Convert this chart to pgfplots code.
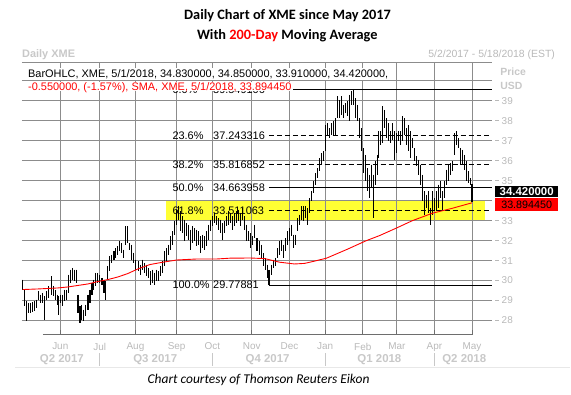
\documentclass[border=0pt]{standalone}
\usepackage{fontspec}
\setmainfont{Liberation Sans}
\newfontfamily\carlito{Carlito}
\usepackage{pgfplots}
\pgfplotsset{compat=1.18}
\usepackage{pgfplotstable}
\definecolor{gridgray}{RGB}{140,140,140}
\definecolor{lblgray}{RGB}{185,185,185}
\definecolor{qgray}{RGB}{200,200,200}
\definecolor{fibyellow}{RGB}{255,255,51}
\definecolor{smared}{RGB}{255,0,0}
\definecolor{axgray}{RGB}{110,110,110}

% x = trading-day index from 2 May 2017
\pgfplotstableread{
x hi lo
0.0 30.05 29.55
0.9 29.55 28.72
2.1 28.97 27.97
3.4 28.88 28.38
4.5 28.88 28.38
5.6 28.92 28.42
6.7 28.97 28.47
7.8 29.05 28.63
8.9 29.47 29.05
10.1 29.30 28.88
11.2 29.38 28.88
12.3 29.22 28.05
13.4 29.47 29.05
14.5 29.72 29.13
16.0 30.22 29.30
17.1 29.72 29.22
18.2 29.55 29.05
19.3 29.30 28.80
20.1 29.22 28.30
21.2 29.30 28.88
22.3 29.30 28.72
23.4 29.55 28.97
24.6 29.55 29.05
25.7 30.30 29.38
26.8 30.55 29.88
27.9 30.63 30.05
29.0 30.55 29.97
30.1 30.55 29.88
30.9 29.30 28.38
32.0 28.72 27.88
33.1 28.80 28.05
34.2 28.55 27.97
35.3 28.80 28.22
36.5 29.30 28.55
37.6 29.55 28.88
38.7 29.88 29.30
39.8 30.05 29.55
40.9 30.38 29.72
42.0 30.38 29.88
43.1 30.30 29.88
44.3 30.13 29.80
45.4 30.05 29.38
46.5 29.97 29.05
47.6 30.72 30.05
48.7 31.22 30.47
49.8 31.30 30.88
51.0 31.47 31.05
52.1 31.63 31.13
53.2 31.72 31.30
54.3 31.97 31.47
55.4 31.88 31.38
56.5 31.55 31.13
57.6 32.72 31.80
58.8 32.72 31.88
59.9 31.88 31.55
61.0 31.80 31.05
62.1 31.40 30.90
63.2 31.05 30.55
64.5 30.97 30.47
65.8 30.80 30.30
66.9 31.05 30.55
68.1 30.88 30.38
69.2 30.80 30.22
70.3 30.63 30.13
71.4 30.47 29.80
72.5 30.55 29.88
73.6 30.38 29.80
74.8 30.55 29.97
75.9 30.47 29.97
77.0 30.72 30.22
78.1 30.97 30.38
79.2 31.47 30.72
80.3 31.63 30.97
81.4 31.80 31.30
82.6 32.22 31.55
83.7 32.47 31.80
84.8 32.97 32.30
85.9 33.55 32.80
87.0 33.75 33.05
88.1 33.47 32.47
89.3 33.22 32.38
90.4 33.05 31.97
91.5 32.88 32.22
92.6 32.80 32.05
93.7 32.55 31.55
94.8 32.72 31.88
95.9 32.63 31.97
97.1 32.55 31.72
98.2 32.47 31.80
99.3 32.22 31.38
100.4 32.30 31.63
101.5 32.22 31.55
102.6 32.47 31.72
103.8 32.80 32.05
104.9 33.05 32.47
106.0 33.22 32.72
107.1 33.38 32.88
108.2 33.22 32.80
109.3 33.13 32.55
110.4 33.05 32.38
111.6 32.88 32.05
112.7 32.97 32.38
113.8 33.22 32.72
114.9 33.47 32.80
116.0 33.38 32.88
117.1 33.22 32.55
118.3 33.38 32.72
119.4 33.47 32.88
120.5 33.55 32.97
121.6 33.38 32.72
122.7 33.63 33.05
123.8 33.22 32.55
124.9 32.80 31.97
125.9 32.47 31.97
127.2 32.38 31.63
128.3 32.22 31.80
129.6 32.80 32.13
130.9 32.13 31.47
132.2 31.97 31.30
133.3 31.80 31.13
134.4 31.38 30.72
135.5 31.13 30.55
136.7 30.80 30.13
137.6 30.55 29.78
138.9 30.80 30.30
140.0 31.05 30.63
141.1 31.13 30.72
142.2 31.63 31.13
143.3 31.97 31.30
144.5 32.05 31.47
145.6 31.80 31.13
146.7 32.13 31.47
147.8 32.47 31.80
148.9 32.63 31.97
150.0 32.80 32.22
151.2 32.30 31.63
152.3 32.30 31.80
153.4 33.13 32.47
154.5 33.30 32.80
155.6 33.72 33.05
156.7 33.72 32.97
157.9 33.72 33.13
159.0 33.63 32.80
160.1 34.13 33.38
161.2 34.47 33.97
162.3 34.97 34.38
163.4 35.38 34.80
164.5 35.63 35.13
165.7 36.13 35.47
166.8 36.38 35.80
167.9 36.47 35.97
169.0 37.80 36.47
170.1 37.88 37.30
171.2 37.63 37.13
172.4 37.88 37.30
173.5 37.97 37.30
174.6 38.13 37.30
175.7 39.22 38.13
176.8 39.05 38.13
177.9 39.22 38.30
179.0 38.80 38.13
180.2 38.88 38.38
181.3 38.97 38.22
182.4 39.30 37.97
183.5 39.50 38.80
184.6 39.55 38.80
185.7 39.13 38.13
186.9 38.80 37.97
188.0 38.13 37.13
189.1 37.63 36.47
190.2 36.63 35.38
191.5 36.30 34.97
192.6 35.63 34.47
193.7 35.30 34.13
194.8 35.80 34.63
195.8 35.30 33.13
196.9 35.97 34.80
198.0 36.30 35.30
198.9 37.47 36.13
200.1 37.47 36.80
201.2 38.72 36.88
202.3 38.55 37.63
203.4 38.13 37.13
204.5 37.88 36.97
205.6 37.47 36.88
206.7 37.88 37.05
207.9 37.47 36.05
209.0 37.38 36.38
210.1 37.47 36.97
211.2 37.47 36.80
212.3 38.22 36.97
213.4 38.13 37.30
214.6 37.63 36.80
215.7 37.80 36.47
216.8 37.47 36.13
217.9 37.13 36.63
219.0 36.63 35.97
220.1 36.22 35.72
221.2 36.05 35.30
222.4 35.80 34.80
223.5 35.30 33.97
224.6 34.47 33.30
225.7 34.30 33.63
226.8 34.47 33.38
227.9 33.63 32.80
229.1 34.47 33.30
230.2 34.13 33.47
231.3 34.47 33.47
232.4 34.80 33.63
233.5 34.97 34.13
234.6 34.47 33.47
235.7 34.97 34.13
236.9 35.55 34.80
238.0 35.80 34.97
239.1 35.88 35.30
240.2 35.97 35.47
241.3 37.38 36.30
242.4 37.47 36.80
243.6 37.13 36.63
244.7 36.63 35.80
245.8 36.55 35.80
246.9 36.30 35.55
248.0 35.97 34.97
249.1 35.47 34.88
250.2 35.13 34.80
251.0 34.85 33.91
}\bars

\pgfplotstableread{
x sma
0 29.55
8.6 29.58
19.7 29.63
25.3 29.68
36.4 29.83
42.0 29.95
47.6 30.05
53.2 30.18
58.7 30.35
64.3 30.58
71.0 30.80
78.3 30.92
86.1 31.03
97.2 31.08
108.4 31.08
115.6 31.12
126.8 31.13
135.2 31.10
143.5 30.92
151.9 30.83
157.5 30.86
161.9 30.95
169.7 31.12
180.9 31.55
192.0 32.00
199.3 32.25
208.8 32.63
217.7 33.00
228.8 33.37
240.0 33.62
251.0 33.894
}\sma

\begin{document}
\begin{tikzpicture}
% background: golden-zone highlight and grid, in picture units (1 unit = 1bp)
\begin{scope}[x=1bp,y=1bp]
\fill[fibyellow] (165.8,174) rectangle (485.7,194);
\foreach \xx in {60.4,99.8,135.7,176.9,212.8,252.2,289.9,325.7,363.4,397.4,435.1,472.7} {
  \draw[gridgray, line width=0.9bp] (\xx,60) -- (\xx,332);
}
\foreach \yy in {74,94,114,134,154,174,194,214,234,254,274,294,314,332} {
  \draw[gridgray, line width=0.9bp] (22,\yy) -- (493,\yy);
}
\end{scope}

\begin{axis}[
  at={(22bp,60bp)}, anchor=south west,
  scale only axis, width=471bp, height=272bp,
  xmin=-0.4, xmax=262.3, ymin=27.3, ymax=40.9,
  clip=false,
  axis line style={draw=none},
  major tick length=0pt,
  xtick={21,43,63,86,106,128,149,169,190,209,230,251},
  xticklabels={Jun,Jul,Aug,Sep,Oct,Nov,Dec,Jan,Feb,Mar,Apr,May},
  xticklabel style={font=\fontsize{10}{12}\selectfont, text=lblgray, yshift=-5bp},
  ytick={28,29,30,31,32,33,34,35,36,37,38,39,40},
  yticklabels={28,29,30,31,32,33,34,35,36,37,38,39,{}},
  ytick pos=right, yticklabel pos=right,
  yticklabel style={font=\fontsize{10}{12}\selectfont, text=lblgray, xshift=6bp},
  /pgf/number format/assume math mode=true,
]
% Fibonacci retracement levels
\addplot[black, line width=0.9bp, mark=none, forget plot] coordinates {(137.5,39.549106) (262.3,39.549106)};
\addplot[black, line width=0.9bp, mark=none, dash pattern=on 5bp off 3bp, forget plot] coordinates {(137.5,37.243316) (262.3,37.243316)};
\addplot[black, line width=0.9bp, mark=none, dash pattern=on 5bp off 3bp, forget plot] coordinates {(137.5,35.816852) (262.3,35.816852)};
\addplot[black, line width=0.9bp, mark=none, forget plot] coordinates {(137.5,34.663958) (262.3,34.663958)};
\addplot[black, line width=0.9bp, mark=none, dash pattern=on 5bp off 3bp, forget plot] coordinates {(137.5,33.511063) (262.3,33.511063)};
\addplot[black, line width=0.9bp, mark=none, forget plot] coordinates {(137.5,29.77881) (262.3,29.77881)};

% OHLC bars (high-low ranges)
\addplot[draw=none, mark=none, forget plot,
  error bars/.cd, y dir=minus, y explicit, error mark=none,
  error bar style={draw=black, solid, line width=1.1bp}]
  table[x=x, y=hi, y error minus expr=\thisrow{hi}-\thisrow{lo}] {\bars};

% 200-day SMA
\addplot[smared, line width=0.9bp, mark=none, forget plot] table[x=x, y=sma] {\sma};

% Fib labels
\begin{scope}[every node/.style={font=\fontsize{11}{13}\selectfont, anchor=west, inner sep=0pt}]
\node at (axis cs:83.6,39.549106) {0.0\%};
\node at (axis cs:106.3,39.549106) {39.549106};
\node at (axis cs:83.6,37.243316) {23.6\%};
\node at (axis cs:106.3,37.243316) {37.243316};
\node at (axis cs:83.6,35.816852) {38.2\%};
\node at (axis cs:106.3,35.816852) {35.816852};
\node at (axis cs:83.6,34.663958) {50.0\%};
\node at (axis cs:106.3,34.663958) {34.663958};
\node at (axis cs:83.6,33.511063) {61.8\%};
\node at (axis cs:106.3,33.511063) {33.511063};
\node at (axis cs:83.6,29.77881) {100.0\%};
\node at (axis cs:106.3,29.77881) {29.77881};
\end{scope}
\end{axis}

\begin{scope}[x=1bp,y=1bp]
% price-axis tick dashes
\foreach \yy in {74,94,114,134,154,174,194,214,234,254,274,294} {
  \draw[lblgray, line width=0.8bp] (496,\yy) -- (500,\yy);
}
% bottom axis line and month ticks
\draw[axgray, line width=1bp] (43,60) -- (474,60);
\foreach \xx in {60.4,99.8,135.7,176.9,212.8,252.2,289.9,325.7,363.4,397.4,435.1,472.7} {\draw[axgray, line width=0.8bp] (\xx,60) -- (\xx,64);}
% quarter labels
\begin{scope}[every node/.style={font=\bfseries\fontsize{11.5}{13}\selectfont, text=qgray}]
\node at (62,34.7) {Q2 2017};
\node at (155.5,34.7) {Q3 2017};
\node at (268,34.7) {Q4 2017};
\node at (380,34.7) {Q1 2018};
\node at (465,34.7) {Q2 2018};
\end{scope}
\foreach \xx in {99.8,212.8,325.7,435.1} {\draw[qgray, line width=0.7bp] (\xx,28.5) -- (\xx,41);}
\draw[black!9, line width=1.8bp] (15,27) -- (571,27);

% header
\node[font=\carlito\bfseries\fontsize{14.4}{16}\selectfont] at (288,379) {Daily Chart of XME since May 2017};
\node[font=\carlito\bfseries\fontsize{14.4}{16}\selectfont] at (287.7,359) {With \textcolor{red}{200-Day} Moving Average};
\node[anchor=west, font=\bfseries\fontsize{11}{13}\selectfont, text=qgray, inner sep=0pt] at (22,340) {Daily XME};
\node[anchor=east, font=\fontsize{10.5}{12}\selectfont, text=lblgray, inner sep=0pt] at (556,340) {5/2/2017 - 5/18/2018 (EST)};

% data box
\node[anchor=base west, fill=white, inner xsep=1bp, inner ysep=0.4bp, text height=8.5bp, text depth=2.6bp, font=\fontsize{11}{13}\selectfont] at (27,317.7) {BarOHLC, XME, 5/1/2018, 34.830000, 34.850000, 33.910000, 34.420000,};
\node[anchor=base west, fill=white, inner xsep=1bp, inner ysep=0.3bp, text height=8.5bp, text depth=0bp, text=red, font=\fontsize{11}{13}\selectfont] at (27,304.3) {-0.550000, (-1.57\%), SMA, XME, 5/1/2018, 33.894450};

% price axis title
\node[anchor=west, font=\bfseries\fontsize{10.5}{12}\selectfont, text=qgray, inner sep=0pt] at (501,323.3) {Price};
\node[anchor=west, font=\bfseries\fontsize{10.5}{12}\selectfont, text=qgray, inner sep=0pt] at (501,309.3) {USD};

% last value flags
\fill[black] (496,197.3) rectangle (559,208.3);
\node[text=white, font=\bfseries\fontsize{11.5}{12}\selectfont, inner sep=0pt] at (527.5,202.8) {34.420000};
\fill[red] (496,183.3) rectangle (559,197.0);
\node[text=black, font=\fontsize{10.8}{12}\selectfont, inner sep=0pt] at (527.5,190.2) {33.894450};

% caption
\node[font=\carlito\itshape\fontsize{13.5}{15}\selectfont] at (259,14) {Chart courtesy of Thomson Reuters Eikon};
\path (0,0) rectangle (571,395);
\end{scope}
\end{tikzpicture}
\end{document}
